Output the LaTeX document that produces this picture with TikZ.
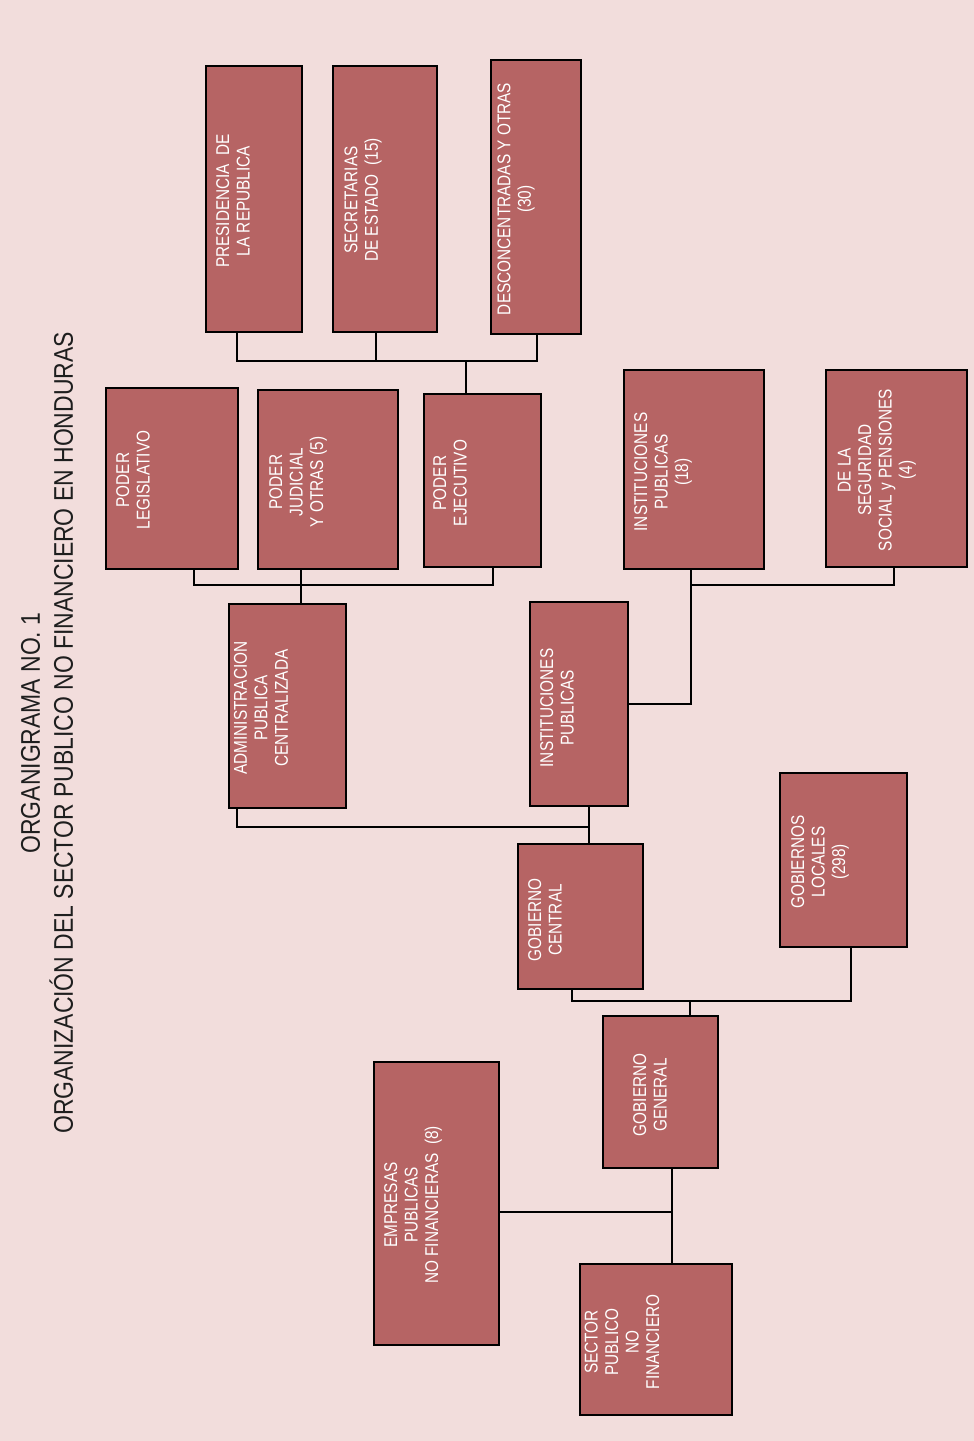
\documentclass[tikz,border=0pt]{standalone}
\usepackage{fontspec}
\usepackage{xcolor}
\usepackage{tikz}
\newfontfamily\cajafont[FakeStretch=0.83]{Liberation Sans}
\newfontfamily\titulofont[FakeStretch=0.85]{Liberation Sans}
\definecolor{fondorosa}{HTML}{F2DDDC}
\definecolor{cajavino}{HTML}{B66464}
\definecolor{tituloneg}{HTML}{1E1E1E}
\tikzset{
  unidad/.style={fill=cajavino, draw=black, line width=1.6pt, inner sep=0pt},
  rotulo/.style={rotate=90, align=center, text=white, inner sep=0pt,
                 font=\cajafont\fontsize{18.5}{20.5}\selectfont},
  enlace/.style={draw=black, line width=1.6pt}
}

\begin{document}
\begin{tikzpicture}[x=1pt, y=-1pt]
    \fill[fondorosa] (0,0) rectangle (974,1441);
    \node[rotate=90, align=center, text=tituloneg, inner sep=0pt,
          font=\titulofont\fontsize{27}{33}\selectfont] (titulo) at (47,733)
      {ORGANIGRAMA NO. 1\\ORGANIZACIÓN DEL SECTOR PUBLICO NO FINANCIERO EN HONDURAS};

    \node[unidad, minimum width=96pt, minimum height=266pt] (presidencia) at (254,199) {};
    \node[unidad, minimum width=104pt, minimum height=266pt] (secretarias) at (385,199) {};
    \node[unidad, minimum width=90pt, minimum height=274pt] (desconcentradas) at (536,197) {};
    \node[unidad, minimum width=132pt, minimum height=181pt] (legislativo) at (172,478.5) {};
    \node[unidad, minimum width=140pt, minimum height=179pt] (judicial) at (328,479.5) {};
    \node[unidad, minimum width=117pt, minimum height=173pt] (ejecutivo) at (482.5,480.5) {};
    \node[unidad, minimum width=140pt, minimum height=199pt] (instituciones18) at (694,469.5) {};
    \node[unidad, minimum width=141pt, minimum height=197pt] (seguridad) at (896.5,468.5) {};
    \node[unidad, minimum width=117pt, minimum height=204pt] (administracion) at (287.5,706) {};
    \node[unidad, minimum width=98pt, minimum height=204pt] (instpublicas) at (579,704) {};
    \node[unidad, minimum width=125pt, minimum height=145pt] (gobcentral) at (580.5,916.5) {};
    \node[unidad, minimum width=127pt, minimum height=174pt] (goblocales) at (843.5,860) {};
    \node[unidad, minimum width=115pt, minimum height=152pt] (gobgeneral) at (660.5,1092) {};
    \node[unidad, minimum width=125pt, minimum height=283pt] (empresas) at (436.5,1203.5) {};
    \node[unidad, minimum width=152pt, minimum height=151pt] (sectorpnf) at (656,1339.5) {};

    \node[rotulo] (presidencia-txt) at (233,201) {PRESIDENCIA\ \ DE\\LA REPUBLICA};
    \node[rotulo] (secretarias-txt) at (363,200) {SECRETARIAS\\DE ESTADO\ \ (15)};
    \node[rotulo] (desconcentradas-txt) at (516,199) {DESCONCENTRADAS Y OTRAS\\(30)};
    \node[rotulo] (legislativo-txt) at (133,480) {PODER\\LEGISLATIVO};
    \node[rotulo] (judicial-txt) at (298,482) {PODER\\JUDICIAL\\Y OTRAS (5)};
    \node[rotulo] (ejecutivo-txt) at (450,483) {PODER\\EJECUTIVO};
    \node[rotulo] (instituciones18-txt) at (663,472) {INSTITUCIONES\\PUBLICAS\\(18)};
    \node[rotulo] (seguridad-txt) at (877,470) {DE LA\\SEGURIDAD\\SOCIAL y PENSIONES\\(4)};
    \node[rotulo] (administracion-txt) at (261,708) {ADMINISTRACION\\PUBLICA\\CENTRALIZADA};
    \node[rotulo] (instpublicas-txt) at (557,708) {INSTITUCIONES\\PUBLICAS};
    \node[rotulo] (gobcentral-txt) at (545,920) {GOBIERNO\\CENTRAL};
    \node[rotulo] (goblocales-txt) at (820,862) {GOBIERNOS\\LOCALES\\(298)};
    \node[rotulo] (gobgeneral-txt) at (650,1095) {GOBIERNO\\GENERAL};
    \node[rotulo] (empresas-txt) at (413,1205) {EMPRESAS\\PUBLICAS\\NO FINANCIERAS\ \ (8)};
    \node[rotulo] (sectorpnf-txt) at (622,1342) {SECTOR\\PUBLICO\\NO\\FINANCIERO};

    \coordinate (bus1) at (466,361);
    \coordinate (bus2) at (301,585);
    \coordinate (bus3) at (691,585);
    \coordinate (bus4) at (589,827);
    \coordinate (bus5) at (690,1001);
    \coordinate (bus6) at (672,1212);

    \draw[enlace] ([xshift=-17pt]presidencia.south) |- (bus1);
    \draw[enlace] ([xshift=-9pt]secretarias.south) |- (bus1);
    \draw[enlace] ([xshift=1pt]desconcentradas.south) |- (bus1);
    \draw[enlace] (bus1) -- (bus1 |- ejecutivo.north);

    \draw[enlace] ([xshift=22pt]legislativo.south) |- (bus2);
    \draw[enlace] ([xshift=10.5pt]ejecutivo.south) |- (bus2);
    \draw[enlace] ([xshift=-27pt]judicial.south) -- ([xshift=13.5pt]administracion.north);

    \draw[enlace] (seguridad.south -| 894,0) |- (bus3);
    \draw[enlace] (instituciones18.south -| bus3) -- (bus3) |- (instpublicas.east);

    \draw[enlace] ([xshift=-50.5pt]administracion.south) |- (bus4);
    \draw[enlace] (instpublicas.south -| bus4) -- (gobcentral.north -| bus4);

    \draw[enlace] ([xshift=-8.5pt]gobcentral.south) |- (bus5);
    \draw[enlace] ([xshift=7.5pt]goblocales.south) |- (bus5);
    \draw[enlace] (bus5) -- (bus5 |- gobgeneral.north);

    \draw[enlace] (gobgeneral.south -| bus6) -- (sectorpnf.north -| bus6);
    \draw[enlace] (empresas.east |- bus6) -- (bus6);
  \end{tikzpicture}
\end{document}
